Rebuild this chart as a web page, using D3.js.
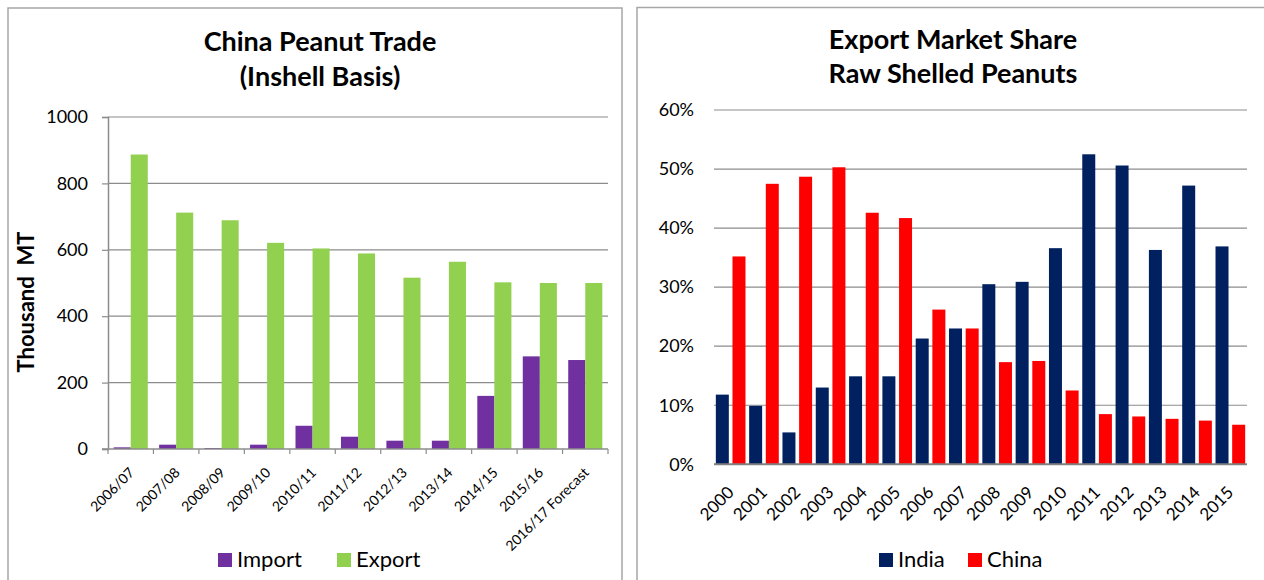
<!DOCTYPE html>
<html><head><meta charset="utf-8">
<script src="https://cdn.jsdelivr.net/npm/d3@7/dist/d3.min.js"></script>
<style>
html,body{margin:0;padding:0;background:#fff;}
svg{display:block;font-family:Lato,"Open Sans",sans-serif;}
</style></head>
<body>
<svg id="c" width="1264" height="580"></svg>
<script>
// ---- Left chart data ----
const seasons = ["2006/07","2007/08","2008/09","2009/10","2010/11","2011/12","2012/13","2013/14","2014/15","2015/16","2016/17 Forecast"];
const importVals = [5, 13, 3, 13, 70, 37, 25, 25, 160, 279, 268];
const exportVals = [887, 712, 689, 621, 604, 589, 516, 564, 502, 500, 500];
const leftTicks = [0, 200, 400, 600, 800, 1000];
const leftSeries = ["Import", "Export"];

// ---- Right chart data ----
const years = ["2000","2001","2002","2003","2004","2005","2006","2007","2008","2009","2010","2011","2012","2013","2014","2015"];
const indiaVals = [11.8, 9.9, 5.4, 13.0, 14.9, 14.9, 21.3, 23.0, 30.5, 30.9, 36.6, 52.5, 50.6, 36.3, 47.2, 36.9];
const chinaVals = [35.2, 47.5, 48.7, 50.3, 42.6, 41.7, 26.2, 23.0, 17.3, 17.5, 12.5, 8.5, 8.1, 7.7, 7.4, 6.7];
const rightTicks = [0, 10, 20, 30, 40, 50, 60];
const rightSeries = ["India", "China"];

const svg = d3.select("#c");
const gridCol = "#8c8c8c";
const borderCol = "#a6a6a6";

// panel borders
svg.append("path").attr("d","M8,580 V8 H622 V580").attr("fill","none").attr("stroke",borderCol).attr("stroke-width",1.5);
svg.append("path").attr("d","M637,580 V7.5 H1264").attr("fill","none").attr("stroke",borderCol).attr("stroke-width",1.5);

// ================= LEFT =================
(function(){
  const L = {x0:108, x1:608, y0:449, y1:117};
  const x = d3.scaleBand().domain(seasons).range([L.x0, L.x1]);
  const y = d3.scaleLinear().domain([0,1000]).range([L.y0, L.y1]);
  const g = svg.append("g");
  g.append("g").selectAll("line").data(leftTicks.filter(d=>d>0)).join("line")
    .attr("x1",L.x0).attr("x2",L.x1).attr("y1",d=>y(d)).attr("y2",d=>y(d))
    .attr("stroke",gridCol).attr("stroke-width",1.2);
  const bw = x.bandwidth()*0.375;
  const colors = {Import:"#7030a0", Export:"#92d050"};
  const series = [importVals, exportVals];
  series.forEach((vals,si)=>{
    g.append("g").selectAll("rect").data(seasons).join("rect")
      .attr("x",(d)=>x(d)+x.bandwidth()/2 - bw + si*bw)
      .attr("width",bw)
      .attr("y",(d,i)=>y(vals[i]))
      .attr("height",(d,i)=>y(0)-y(vals[i]))
      .attr("fill",colors[leftSeries[si]]);
  });
  const ya = d3.axisLeft(y).tickValues(leftTicks).tickSize(6).tickPadding(14).tickFormat(d3.format("d"));
  const yg = g.append("g").attr("transform",`translate(${L.x0},0)`).call(ya);
  yg.select(".domain").attr("stroke",gridCol).attr("stroke-width",1.5);
  yg.selectAll(".tick line").attr("stroke",gridCol).attr("stroke-width",1.2);
  yg.selectAll(".tick text").attr("font-size",18).attr("fill","#000").attr("font-family","Lato");
  g.append("line").attr("x1",L.x0-6).attr("x2",L.x1).attr("y1",L.y0).attr("y2",L.y0).attr("stroke",gridCol).attr("stroke-width",1.5);
  g.append("g").selectAll("line").data(seasons.concat(["__end"])).join("line")
    .attr("x1",(d,i)=>L.x0 + i*x.step()).attr("x2",(d,i)=>L.x0 + i*x.step())
    .attr("y1",L.y0).attr("y2",L.y0+5).attr("stroke",gridCol).attr("stroke-width",1.2);
  g.append("g").selectAll("text").data(seasons).join("text")
    .attr("transform",d=>`translate(${x(d)+x.bandwidth()/2+1},${L.y0+21}) rotate(-45)`)
    .attr("text-anchor","end").attr("dy","0.35em").attr("font-size",14).text(d=>d);
  svg.append("text").attr("transform","translate(34,302) rotate(-90)").attr("text-anchor","middle")
    .attr("font-size",22).attr("font-weight","bold").attr("xml:space","preserve").text("Thousand  MT");
  svg.append("text").attr("x",320).attr("y",51).attr("text-anchor","middle").attr("font-size",27).attr("font-weight","bold").text("China Peanut Trade");
  svg.append("text").attr("x",320).attr("y",86).attr("text-anchor","middle").attr("font-size",27).attr("font-weight","bold").text("(Inshell Basis)");
  const lg = svg.append("g");
  const lpos = [218, 337];
  leftSeries.forEach((s,i)=>{
    lg.append("rect").attr("x",lpos[i]).attr("y",553).attr("width",14).attr("height",14).attr("fill",colors[s]);
    lg.append("text").attr("x",lpos[i]+19).attr("y",567).attr("font-size",22).text(s);
  });
})();

// ================= RIGHT =================
(function(){
  const R = {x0:714, x1:1247, y0:464.3, y1:110};
  const x = d3.scaleBand().domain(years).range([R.x0, R.x1]);
  const y = d3.scaleLinear().domain([0,60]).range([R.y0, R.y1]);
  const g = svg.append("g");
  g.append("g").selectAll("line").data(rightTicks.filter(d=>d>0)).join("line")
    .attr("x1",R.x0).attr("x2",R.x1).attr("y1",d=>y(d)).attr("y2",d=>y(d))
    .attr("stroke",gridCol).attr("stroke-width",1.2);
  const b = x.bandwidth();
  const bw = b*0.39, gap = b*0.11;
  const colors = {India:"#002060", China:"#ff0000"};
  [indiaVals, chinaVals].forEach((vals,si)=>{
    g.append("g").selectAll("rect").data(years).join("rect")
      .attr("x",d=>x(d)+gap/2 + si*(bw+gap))
      .attr("width",bw)
      .attr("y",(d,i)=>y(vals[i]))
      .attr("height",(d,i)=>y(0)-y(vals[i]))
      .attr("fill",colors[rightSeries[si]]);
  });
  const ya = d3.axisLeft(y).tickValues(rightTicks).tickSize(0).tickPadding(20).tickFormat(d=>d+"%");
  const yg = g.append("g").attr("transform",`translate(${R.x0},0)`).call(ya);
  yg.select(".domain").remove();
  yg.selectAll(".tick text").attr("font-size",18).attr("fill","#000").attr("font-family","Lato");
  g.append("line").attr("x1",R.x0).attr("x2",R.x1).attr("y1",R.y0).attr("y2",R.y0).attr("stroke","#808080").attr("stroke-width",2);
  g.append("g").selectAll("text").data(years).join("text")
    .attr("transform",d=>`translate(${x(d)+b/2},${R.y0+25}) rotate(-45)`)
    .attr("text-anchor","end").attr("dy","0.35em").attr("font-size",17).text(d=>d);
  svg.append("text").attr("x",953).attr("y",49).attr("text-anchor","middle").attr("font-size",27).attr("font-weight","bold").text("Export Market Share");
  svg.append("text").attr("x",953).attr("y",83).attr("text-anchor","middle").attr("font-size",27).attr("font-weight","bold").text("Raw Shelled Peanuts");
  const lg = svg.append("g");
  const lpos = [879, 968];
  rightSeries.forEach((s,i)=>{
    lg.append("rect").attr("x",lpos[i]).attr("y",553).attr("width",14).attr("height",14).attr("fill",colors[s]);
    lg.append("text").attr("x",lpos[i]+19).attr("y",567).attr("font-size",22).text(s);
  });
})();
</script>
</body></html>
